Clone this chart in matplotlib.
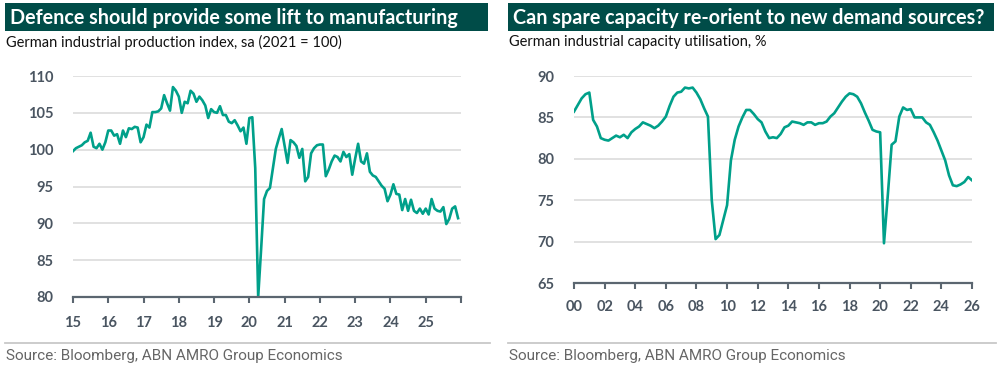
import matplotlib
matplotlib.use("Agg")
import matplotlib.pyplot as plt
from matplotlib.patches import Rectangle
import numpy as np

# ---------------- data ----------------
ip_start_year = 2015
ip_values = [
    99.8, 100.2, 100.4, 100.6, 101.0, 101.2, 102.3, 100.4, 100.2, 100.8, 100.0, 101.0,   # 2015
    102.6, 102.6, 101.9, 102.1, 100.8, 102.6, 101.7, 102.9, 102.8, 103.1, 103.0, 101.0,  # 2016
    101.7, 103.4, 103.0, 105.1, 105.1, 105.2, 105.6, 107.4, 106.3, 105.3, 108.5, 108.0,  # 2017
    107.2, 105.0, 106.5, 106.3, 108.0, 107.6, 106.5, 107.2, 106.7, 106.0, 104.3, 105.5,  # 2018
    105.1, 105.0, 105.9, 104.7, 104.7, 103.8, 103.6, 104.0, 103.3, 102.5, 103.0, 100.8,  # 2019
    104.3, 104.4, 97.5, 80.0, 86.5, 93.3, 94.4, 94.8, 97.5, 100.1, 101.5, 102.8,         # 2020
    100.5, 98.2, 101.3, 101.0, 100.5, 98.9, 100.1, 95.7, 96.3, 99.5, 100.2, 100.6,       # 2021
    100.7, 100.7, 96.4, 97.3, 98.4, 99.2, 99.0, 98.4, 99.7, 99.0, 99.4, 96.6,            # 2022
    98.8, 100.8, 98.4, 98.1, 99.5, 97.0, 96.5, 96.3, 95.7, 95.1, 94.7, 93.0,             # 2023
    93.9, 95.3, 94.0, 93.9, 91.8, 93.3, 91.7, 93.2, 91.7, 91.4, 92.0, 91.3,              # 2024
    92.0, 91.2, 93.3, 92.0, 91.7, 91.6, 92.2, 89.9, 90.6, 92.0, 92.3, 90.7,              # 2025
]
ip_ticks = list(range(2015, 2027))
ip_ticklabels = ["15", "16", "17", "18", "19", "20", "21", "22", "23", "24", "25", ""]
ip_yticks = [80, 85, 90, 95, 100, 105, 110]

cu_start_year = 2000
cu_values = [
    85.7, 86.5, 87.3, 87.8,  # 2000
    88.0, 84.7, 83.9, 82.5,  # 2001
    82.3, 82.2, 82.5, 82.8,  # 2002
    82.6, 82.9, 82.5, 83.2,  # 2003
    83.6, 83.9, 84.4, 84.2,  # 2004
    84.0, 83.7, 84.0, 84.5,  # 2005
    85.1, 86.4, 87.5, 88.0,  # 2006
    88.1, 88.6, 88.5, 88.6,  # 2007
    88.0, 87.2, 86.1, 85.1,  # 2008
    75.0, 70.3, 70.8, 72.6,  # 2009
    74.4, 79.8, 82.3, 83.9,  # 2010
    85.0, 85.9, 85.9, 85.4,  # 2011
    84.8, 84.4, 83.3, 82.5,  # 2012
    82.6, 82.5, 83.0, 83.8,  # 2013
    84.0, 84.5, 84.4, 84.3,  # 2014
    84.1, 84.4, 84.4, 84.1,  # 2015
    84.3, 84.3, 84.5, 85.1,  # 2016
    85.5, 86.2, 86.9, 87.5,  # 2017
    87.9, 87.8, 87.5, 86.7,  # 2018
    85.6, 84.6, 83.5, 83.3,  # 2019
    83.2, 69.8, 75.6, 81.7,  # 2020
    82.1, 85.1, 86.2, 85.9,  # 2021
    86.0, 85.0, 85.0, 85.0,  # 2022
    84.4, 84.1, 83.2, 82.2,  # 2023
    81.0, 79.8, 78.0, 76.8,  # 2024
    76.7, 76.9, 77.2, 77.8,  # 2025
    77.4,                    # 2026
]
cu_ticks = list(range(2000, 2027, 2))
cu_ticklabels = ["00", "02", "04", "06", "08", "10", "12", "14", "16", "18", "20", "22", "24", "26"]
cu_yticks = [65, 70, 75, 80, 85, 90]

titles = ["Defence should provide some lift to manufacturing",
          "Can spare capacity re-orient to new demand sources?"]
subtitles = ["German industrial production index, sa (2021 = 100)",
             "German industrial capacity utilisation, %"]
source = "Source: Bloomberg, ABN AMRO Group Economics"

# ---------------- style ----------------
W, H = 999, 370
LINE = "#00A08A"
BOX = "#004C48"
AXC = "#5B6670"
TXT = "#4A5561"
GRID = "#DCDCDC"
FONT = ["Lato", "DejaVu Sans"]

plt.rcParams['font.family'] = FONT

fig = plt.figure(figsize=(W / 100, H / 100), dpi=100)
fig.patch.set_facecolor("white")

def fx(x):
    return x / W

def fy(y):
    return 1 - y / H

def panel(x0, x1, title, subtitle, ax_l, ax_r, ax_t, ax_b):
    fig.patches.append(Rectangle((fx(x0), fy(31)), fx(x1 - x0), (31 - 3) / H,
                                 transform=fig.transFigure, facecolor=BOX,
                                 edgecolor="none", zorder=0))
    fig.text(fx(x0 + 5), fy(17.5), title, color="white", fontsize=14.2,
             fontweight="bold", va="center", ha="left")
    fig.text(fx(x0 + 1), fy(42), subtitle, color="#111111", fontsize=10.5,
             va="center", ha="left")
    fig.add_artist(plt.Line2D([fx(x0), fx(x1 + 2)], [fy(343), fy(343)],
                              transform=fig.transFigure, color="#C8C8C8", lw=1.3))
    fig.text(fx(x0 + 1), fy(356), source, color="#666666", fontsize=11,
             va="center", ha="left", family=["Roboto", "DejaVu Sans"])
    ax = fig.add_axes([fx(ax_l), fy(ax_b), fx(ax_r - ax_l), (ax_b - ax_t) / H])
    return ax

def style_axes(ax, yticks, xticks, xlabels, xlim):
    ax.set_xlim(*xlim)
    ax.set_ylim(yticks[0], yticks[-1])
    ax.set_yticks(yticks)
    ax.set_xticks(xticks)
    ax.set_xticklabels(xlabels)
    for s in ["top", "right", "left"]:
        ax.spines[s].set_visible(False)
    ax.spines["bottom"].set_color(AXC)
    ax.spines["bottom"].set_linewidth(1.6)
    ax.spines["bottom"].set_zorder(5)
    ax.tick_params(axis="y", length=0, pad=14, labelsize=10.5, labelcolor=TXT)
    ax.tick_params(axis="x", length=4, width=1.5, color=AXC, pad=9,
                   labelsize=10.5, labelcolor=TXT)
    for lab in ax.get_yticklabels() + ax.get_xticklabels():
        lab.set_fontweight("bold")
    for yv in yticks[1:]:
        ax.axhline(yv, color=GRID, lw=1.2, zorder=1)
    ax.set_facecolor("none")

# left panel
ax1 = panel(5, 488, titles[0], subtitles[0], 73, 461, 76, 297)
ip_x = ip_start_year + np.arange(len(ip_values)) / 12.0
ax1.plot(ip_x, ip_values, color=LINE, lw=1.9, zorder=3, solid_joinstyle="round")
style_axes(ax1, ip_yticks, ip_ticks, ip_ticklabels, (2015, 2026))
ax1.tick_params(axis="x", pad=10)

# right panel
ax2 = panel(508, 994, titles[1], subtitles[1], 574, 972, 76, 283)
cu_x = cu_start_year + np.arange(len(cu_values)) / 4.0
ax2.plot(cu_x, cu_values, color=LINE, lw=1.9, zorder=3, solid_joinstyle="round")
style_axes(ax2, cu_yticks, cu_ticks, cu_ticklabels, (2000, 2026))
ax2.tick_params(axis="x", pad=8)

fig.savefig("out.png", dpi=100, facecolor="white")
